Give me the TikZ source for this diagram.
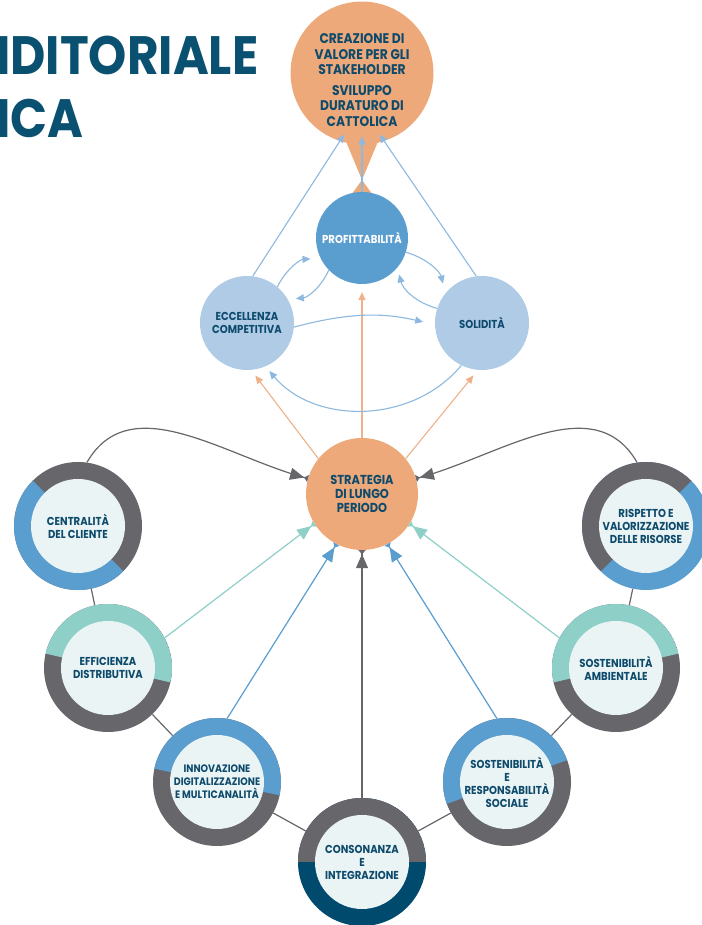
\documentclass[tikz,border=0pt]{standalone}
\usepackage{fontspec}
\newfontfamily\lblfont{Poppins}[FakeStretch=0.88]
\newfontfamily\titlefont{Poppins}[FakeStretch=0.9]
\usetikzlibrary{arrows.meta, backgrounds}

\definecolor{hubor}{HTML}{EDA979}
\definecolor{orline}{HTML}{F0B088}
\definecolor{midblue}{HTML}{5A9DCF}
\definecolor{paleblue}{HTML}{AFCBE6}
\definecolor{lineblue}{HTML}{8DB9E0}
\definecolor{ringgray}{HTML}{67666B}
\definecolor{ringteal}{HTML}{8ECFC8}
\definecolor{ringnavy}{HTML}{004A6E}
\definecolor{ringin}{HTML}{EAF4F4}
\definecolor{lbltext}{HTML}{0E4A6C}
\definecolor{titleblue}{HTML}{0A5070}

\begin{document}
\begin{tikzpicture}[
    x=1pt, y=1pt,
    lbl/.style={font=\lblfont\bfseries\fontsize{11.5}{13}\selectfont, text=lbltext, align=center},
    hub/.style={circle, inner sep=0pt, fill=hubor, minimum size=#1, lbl},
    goal/.style={circle, inner sep=0pt, fill=paleblue, minimum size=94pt, lbl},
    ring/.style n args={3}{circle, inner sep=0pt, minimum size=128pt, fill=#3, lbl,
        path picture={
            \fill[#2] (path picture bounding box.center) -- ++(#1:64pt)
                arc[start angle=#1, delta angle=180, radius=64pt] -- cycle;
            \fill[ringin] (path picture bounding box.center) circle[radius=47pt];}},
    feed/.style={line width=1.2pt, -{Triangle[length=14pt,width=12pt]Triangle[reversed,length=4pt,width=7pt]}},
    rise/.style={line width=1.1pt, -{Triangle[length=8pt,width=7pt]}},
    chain/.style={ringgray, line width=1.2pt},
]
\useasboundingbox (0,0) rectangle (701,925);

% Title
\node[anchor=base west, inner sep=0pt, font=\titlefont\bfseries\fontsize{54}{54}\selectfont, text=titleblue] (ttl) at (-4,850) {IDITORIALE};
\node[anchor=base west, inner sep=0pt, font=\titlefont\bfseries\fontsize{54}{54}\selectfont, text=titleblue] (ttlb) at (-4,787) {ICA};

% Top goal
\node[hub=142pt, font=\lblfont\bfseries\fontsize{14}{15.5}\selectfont] (crea) at (362,852)
    {\rule{0pt}{24pt}CREAZIONE DI\\VALORE PER GLI\\STAKEHOLDER\\[5pt]SVILUPPO\\DURATURO DI\\CATTOLICA};

% Triangle of results
\node[circle, inner sep=0pt, minimum size=92pt, fill=midblue, lbl, text=white] (prof) at (362,687) {PROFITTABILITÀ};
\node[goal] (ecc) at (247,602) {ECCELLENZA\\COMPETITIVA};
\node[goal] (sol) at (482,602) {SOLIDITÀ};

% Strategy
\node[hub=112pt, font=\lblfont\bfseries\fontsize{13}{14}\selectfont] (strat) at (362,431) {STRATEGIA\\DI LUNGO\\PERIODO};

% Pillars
\node[ring={135}{midblue}{ringgray}] (cent) at (78,399) {CENTRALITÀ\\DEL CLIENTE};
\node[ring={-13}{ringteal}{ringgray}] (eff) at (108,257) {EFFICIENZA\\DISTRIBUTIVA};
\node[ring={-12}{midblue}{ringgray}, font=\lblfont\bfseries\fontsize{10.8}{13}\selectfont] (inn) at (217,143) {INNOVAZIONE\\DIGITALIZZAZIONE\\E MULTICANALITÀ};
\node[ring={0}{ringgray}{ringnavy}] (cons) at (362,63) {CONSONANZA\\E\\INTEGRAZIONE};
\node[ring={20}{midblue}{ringgray}] (soc) at (507,143) {SOSTENIBILITÀ\\E\\RESPONSABILITÀ\\SOCIALE};
\node[ring={13}{ringteal}{ringgray}] (amb) at (616,257) {SOSTENIBILITÀ\\AMBIENTALE};
\node[ring={45}{ringgray}{midblue}] (risp) at (646,399) {RISPETTO E\\VALORIZZAZIONE\\DELLE RISORSE};

\begin{scope}[on background layer]
    \fill[white] (0,0) rectangle (701,925);
    \draw[chain] (cent) -- (eff) -- (inn) -- (cons) -- (soc) -- (amb) -- (risp);
    \fill[hubor] (345,786) -- (379,786) -- (362,745) -- cycle;
    \fill[hubor] (362,745) -- (349,727) -- (375,727) -- cycle;
\end{scope}

% Pillars feeding the strategy
\draw[feed, ringteal] (eff.28) -- (strat.212);
\draw[feed, midblue] (inn.81) -- (strat.243);
\draw[feed, ringgray] (cons) -- (strat);
\draw[feed, midblue] (soc.99) -- (strat.297);
\draw[feed, ringteal] (amb.152) -- (strat.328);
\draw[feed, ringgray] (cent.82) to[out=60, in=165] (strat.164);
\draw[feed, ringgray] (risp.98) to[out=120, in=15] (strat.16);

% Strategy to results
\draw[rise, orline, shorten >=8pt] (strat) -- (prof);
\draw[rise, orline, shorten >=7pt] (strat.141) -- (ecc.275);
\draw[rise, orline, shorten >=7pt] (strat.39) -- (sol.265);

% Loops between results
\draw[rise, lineblue, shorten >=10pt] (ecc.50) to[bend left=30] (prof.206);
\draw[rise, lineblue, shorten >=8pt] (prof.224) to[bend left=30] (ecc.30);
\draw[rise, lineblue, shorten >=10pt] (prof.-18) to[bend left=30] (sol.141);
\draw[rise, lineblue, shorten >=7pt] (sol.162) to[bend left=30] (prof.-40);
\draw[rise, lineblue, shorten >=12pt] (ecc.-5) to[bend left=14] (sol.182);
\draw[rise, lineblue, shorten >=6pt] (sol.244) to[bend left=50] (ecc.293);

% Up to value creation
\draw[rise, lineblue, shorten >=-8pt] (ecc.83) -- (crea.252);
\draw[rise, lineblue, shorten >=-8pt] (prof) -- (crea);
\draw[rise, lineblue, shorten >=-8pt] (sol.97) -- (crea.288);

\end{tikzpicture}
\end{document}
